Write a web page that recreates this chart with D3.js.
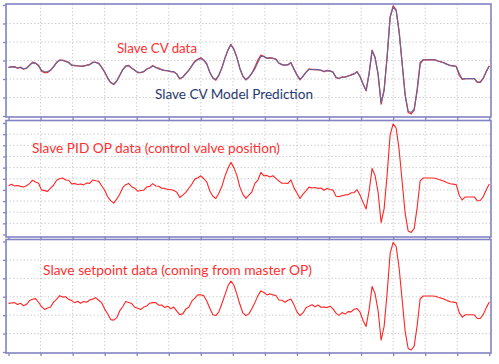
<!DOCTYPE html>
<html>
<head>
<meta charset="utf-8">
<script src="https://cdn.jsdelivr.net/npm/d3@7"></script>
<style>
  body { margin: 0; background: #fff; }
  svg { display: block; }
  .label { font-family: Lato, "Open Sans", sans-serif; font-size: 14px; }
</style>
</head>
<body>
<div id="chart"></div>
<script>
// Slave loop trend data, sampled every 3 s over 480 s
const cvData = [
  26.3, 26.6, 26.7, 25.8, 26.4, 25.3, 25.9, 27.5, 29.1, 28.5,
  27.4, 24.2, 23.4, 23.5, 24.8, 26.6, 29.0, 30.2, 30.2, 29.5,
  29.1, 27.4, 27.3, 27.1, 27.0, 26.9, 27.5, 27.7, 29.1, 29.0,
  28.6, 26.3, 23.8, 20.4, 18.1, 17.0, 18.9, 21.8, 25.1, 26.9,
  27.3, 25.8, 24.8, 23.4, 23.5, 23.9, 25.4, 26.0, 27.3, 26.2,
  25.9, 25.0, 24.6, 24.4, 24.0, 23.9, 22.7, 20.0, 21.1, 22.8,
  24.8, 27.1, 29.7, 30.6, 31.5, 30.1, 28.1, 23.5, 20.6, 19.4,
  22.1, 25.9, 31.2, 35.5, 38.7, 36.1, 31.7, 25.6, 21.5, 19.5,
  21.1, 23.1, 26.4, 30.2, 32.9, 32.3, 31.1, 31.5, 31.1, 30.7,
  28.6, 27.7, 27.5, 27.6, 28.9, 25.2, 22.2, 19.5, 21.6, 23.6,
  25.4, 25.1, 25.2, 24.9, 24.8, 23.9, 24.7, 24.3, 23.8, 20.7,
  20.3, 21.0, 21.2, 21.5, 22.3, 22.7, 24.0, 21.2, 17.2, 13.6,
  23.0, 35.6, 31.6, 22.5, 6.4, 13.9, 32.1, 53.6, 59.5, 57.3,
  45.5, 28.4, 11.2, 1.9, 1.1, 3.2, 14.5, 28.9, 30.4, 30.4,
  30.4, 30.4, 30.3, 29.7, 29.2, 28.7, 27.9, 27.3, 27.1, 26.8,
  22.0, 19.8, 20.2, 20.2, 20.2, 20.2, 18.2, 18.2, 20.4, 24.1,
  27.1
];

const cvModel = [
  26.2, 26.6, 26.4, 26.1, 26.1, 25.6, 25.8, 27.4, 28.7, 28.6,
  27.0, 24.8, 23.9, 24.0, 24.7, 26.7, 28.7, 30.1, 30.0, 29.6,
  28.8, 27.6, 27.2, 27.2, 26.9, 27.1, 27.3, 27.9, 28.8, 29.1,
  28.3, 26.5, 23.7, 20.8, 18.1, 17.3, 18.8, 22.0, 24.8, 27.0,
  27.0, 26.0, 24.7, 23.7, 23.5, 24.2, 25.2, 26.1, 26.9, 26.4,
  25.4, 25.0, 24.6, 24.6, 24.0, 24.0, 22.6, 20.3, 21.0, 23.0,
  24.6, 27.2, 29.2, 30.5, 31.0, 30.2, 27.9, 23.7, 20.5, 19.8,
  22.0, 26.0, 31.0, 35.5, 38.4, 36.1, 31.6, 25.8, 21.5, 19.7,
  20.9, 23.2, 25.5, 29.0, 32.3, 32.0, 31.3, 31.3, 31.2, 30.5,
  28.5, 27.9, 27.4, 27.9, 28.5, 25.4, 22.1, 19.8, 21.4, 23.7,
  25.1, 25.3, 25.0, 25.1, 24.6, 24.2, 24.4, 24.5, 23.6, 21.0,
  20.2, 21.1, 21.0, 21.6, 22.0, 22.9, 23.7, 21.5, 17.3, 13.9,
  22.8, 35.3, 31.5, 22.6, 7.2, 14.2, 32.0, 53.3, 58.9, 57.0,
  45.4, 28.5, 11.5, 2.6, 1.9, 3.9, 13.5, 28.0, 30.4, 30.4,
  30.4, 30.4, 30.3, 29.7, 29.2, 28.7, 27.9, 27.3, 27.1, 26.8,
  23.0, 20.0, 20.2, 20.2, 20.2, 20.2, 18.5, 18.4, 20.4, 24.0,
  27.0
];

const pidOp = [
  26.2, 27.0, 26.1, 26.4, 25.9, 25.6, 26.2, 27.4, 29.2, 28.3,
  27.6, 24.0, 23.6, 23.2, 24.9, 26.5, 29.2, 30.0, 30.4, 29.3,
  29.2, 27.2, 27.5, 26.9, 27.2, 26.7, 27.7, 27.5, 29.3, 28.9,
  28.7, 26.2, 23.8, 20.3, 18.2, 16.9, 19.0, 21.7, 25.2, 26.8,
  27.5, 25.7, 24.9, 23.3, 23.7, 23.8, 25.6, 25.9, 27.4, 26.1,
  26.0, 24.9, 24.8, 24.2, 24.2, 23.7, 22.8, 19.9, 21.2, 22.7,
  24.9, 27.0, 29.8, 30.5, 31.6, 30.0, 28.2, 23.4, 20.6, 19.4,
  22.2, 25.8, 31.3, 35.4, 38.8, 36.0, 31.8, 25.5, 21.6, 19.4,
  21.2, 23.0, 27.5, 29.3, 33.4, 31.6, 31.8, 30.9, 31.6, 30.2,
  28.7, 27.6, 27.6, 27.5, 29.4, 25.1, 22.3, 19.4, 21.7, 23.5,
  25.5, 25.0, 25.3, 24.8, 25.0, 23.8, 24.8, 24.2, 23.9, 20.6,
  20.4, 20.9, 21.3, 21.4, 22.4, 22.6, 24.1, 21.1, 17.3, 13.7,
  23.0, 35.6, 31.6, 22.5, 6.4, 13.9, 32.1, 53.6, 59.5, 57.3,
  45.5, 28.4, 11.2, 1.9, 1.1, 3.2, 14.5, 28.9, 30.4, 30.4,
  30.4, 30.4, 30.3, 29.7, 29.2, 28.7, 27.9, 27.3, 27.1, 26.8,
  21.0, 18.6, 20.2, 20.2, 20.2, 20.2, 18.2, 18.3, 20.4, 24.1,
  27.2
];

const slaveSp = [
  26.4, 26.6, 26.8, 25.8, 26.5, 25.1, 25.9, 27.9, 28.6, 29.0,
  27.0, 24.6, 23.1, 23.9, 24.4, 27.1, 28.6, 30.6, 29.8, 30.0,
  28.6, 27.9, 26.8, 27.6, 26.5, 27.4, 27.0, 28.2, 28.7, 29.5,
  28.1, 26.7, 23.3, 20.8, 17.6, 17.3, 18.5, 22.3, 24.6, 27.4,
  26.9, 26.3, 24.3, 23.8, 23.1, 24.4, 25.0, 26.5, 26.8, 26.8,
  25.4, 25.5, 24.1, 24.9, 23.5, 24.4, 22.2, 20.3, 20.7, 23.3,
  24.3, 27.6, 29.2, 31.0, 31.1, 30.6, 27.6, 23.8, 20.2, 19.8,
  21.8, 26.2, 30.9, 35.8, 38.5, 36.4, 31.4, 25.9, 21.2, 19.8,
  20.7, 23.6, 26.8, 30.6, 33.2, 32.3, 31.0, 31.6, 31.0, 30.7,
  28.2, 28.1, 27.0, 28.1, 28.8, 25.6, 21.8, 19.8, 21.2, 24.0,
  24.9, 25.7, 24.6, 25.5, 24.3, 24.4, 24.1, 24.9, 23.4, 21.1,
  19.9, 21.4, 20.6, 21.9, 21.8, 23.2, 23.6, 21.6, 17.0, 13.9,
  23.0, 35.6, 31.6, 22.5, 6.4, 13.9, 32.1, 53.6, 59.5, 57.3,
  45.5, 28.4, 11.2, 1.9, 1.1, 3.2, 14.5, 28.9, 30.4, 30.4,
  30.4, 30.4, 30.3, 29.7, 29.2, 28.7, 27.9, 27.3, 27.1, 26.8,
  21.4, 18.9, 20.2, 20.2, 20.2, 20.2, 18.2, 18.2, 20.4, 24.1,
  27.1
];

const timeTicks = d3.range(0, 481, 32);
const yTicksWide = [0, 10, 20, 30, 40, 50, 60];
const yTicksFine = [0, 6, 12, 18, 24, 30, 36, 42, 48, 54, 60];

const width = 499, height = 364;
const borderColor = "#8282c4";

const svg = d3.select("#chart").append("svg")
  .attr("width", width)
  .attr("height", height);

const x = d3.scaleLinear().domain([0, 480]).range([8.5, 489.3]);
const timeOf = (d, i) => i * 3;

// one box per trend pane
const panels = [
  {top: 4, bottom: 117, y0: 5, y1: 116, ticks: yTicksWide,
   series: [{values: cvData, color: "#e8303a", w: 1.3}, {values: cvModel, color: "#65679c", w: 1.1}],
   labels: [
     {text: "Slave CV data", x: 117, y: 53, color: "#ff3030", len: 80},
     {text: "Slave CV Model Prediction", x: 155, y: 98.5, color: "#1f3a6e", len: 158}
   ]},
  {top: 120.5, bottom: 237, y0: 123, y1: 234.5, ticks: yTicksFine,
   series: [{values: pidOp, color: "#ff2424", w: 1.1}],
   labels: [{text: "Slave PID OP data (control valve position)", x: 32, y: 152.5, color: "#ff3030", len: 248}]},
  {top: 239.5, bottom: 353, y0: 241.5, y1: 352, ticks: yTicksWide,
   series: [{values: slaveSp, color: "#ff2424", w: 1.1}],
   labels: [{text: "Slave setpoint data (coming from master OP)", x: 43, y: 274.5, color: "#ff3030", len: 269}]}
];

panels.forEach(p => {
  const y = d3.scaleLinear().domain([0, 60]).range([p.y1, p.y0]);
  const g = svg.append("g");

  g.append("rect")
    .attr("x", 6).attr("y", p.top)
    .attr("width", 485).attr("height", p.bottom - p.top)
    .attr("fill", "#fff");

  // dotted grid
  g.selectAll(".vgrid").data(timeTicks.slice(1, -1)).enter().append("line")
    .attr("x1", d => x(d)).attr("x2", d => x(d))
    .attr("y1", p.top).attr("y2", p.bottom)
    .attr("stroke", "#cfcfcf").attr("stroke-dasharray", "1.5,2");
  g.selectAll(".hgrid").data(p.ticks.slice(1, -1)).enter().append("line")
    .attr("x1", 6).attr("x2", 491)
    .attr("y1", d => y(d)).attr("y2", d => y(d))
    .attr("stroke", "#cfcfcf").attr("stroke-dasharray", "1.5,2");

  p.series.forEach(s => {
    const line = d3.line()
      .x((d, i) => x(timeOf(d, i)))
      .y(d => y(d));
    g.append("path")
      .datum(s.values)
      .attr("d", line)
      .attr("fill", "none")
      .attr("stroke", s.color)
      .attr("stroke-width", s.w)
      .attr("stroke-linejoin", "round");
  });

  g.append("rect")
    .attr("x", 6).attr("y", p.top)
    .attr("width", 485).attr("height", p.bottom - p.top)
    .attr("fill", "none")
    .attr("stroke", borderColor)
    .attr("stroke-width", 1.6);

  // short tick marks
  const xAxis = g.append("g")
    .attr("transform", `translate(0,${p.bottom})`)
    .call(d3.axisBottom(x).tickValues(timeTicks).tickSize(3).tickFormat(""));
  const yAxis = g.append("g")
    .attr("transform", "translate(6,0)")
    .call(d3.axisLeft(y).tickValues(p.ticks).tickSize(3).tickFormat(""));
  [xAxis, yAxis].forEach(a => {
    a.select(".domain").remove();
    a.selectAll("line").attr("stroke", borderColor).attr("stroke-width", 1.3);
  });

  p.labels.forEach(l => {
    g.append("text")
      .attr("class", "label")
      .attr("x", l.x).attr("y", l.y)
      .attr("fill", l.color)
      .attr("textLength", l.len)
      .attr("lengthAdjust", "spacingAndGlyphs")
      .text(l.text);
  });
});
</script>
</body>
</html>
